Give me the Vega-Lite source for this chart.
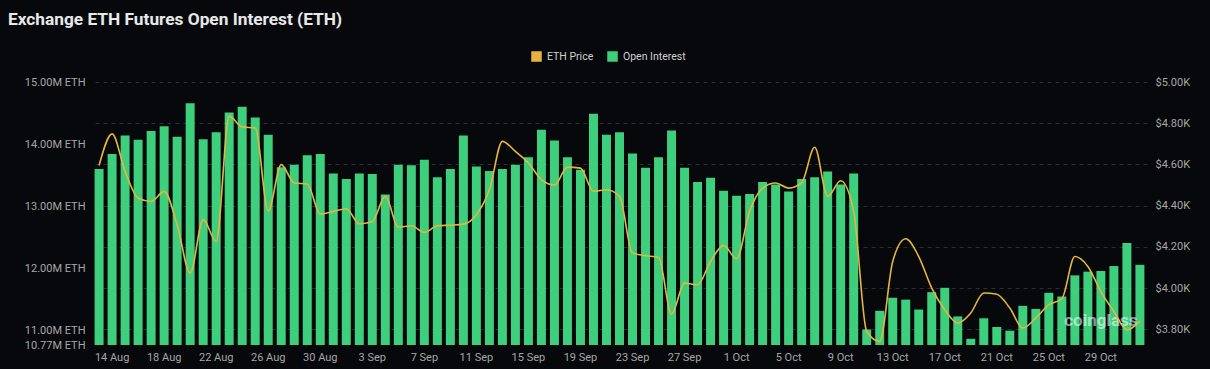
{
  "$schema": "https://vega.github.io/schema/vega-lite/v6.json",
  "width": 1055,
  "height": 263,
  "autosize": {"type": "none"},
  "padding": {"left": 92, "top": 82, "right": 63, "bottom": 24},
  "background": "#06080c",
  "title": {
    "text": "Exchange ETH Futures Open Interest (ETH)",
    "anchor": "start",
    "frame": "group",
    "dx": -84,
    "offset": 23,
    "color": "#e8e8e8",
    "font": "Roboto",
    "fontSize": 17.3,
    "fontWeight": "bold"
  },
  "config": {
    "view": {"stroke": null},
    "axis": {"labelFont": "Roboto", "labelFontSize": 11, "labelColor": "#a6a6a6"},
    "legend": {"labelFont": "Roboto", "labelFontSize": 10.5, "labelColor": "#d0d0d0"}
  },
  "data": {
    "values": [
      {"date": "13 Aug", "oi": 13.60, "price": 4.595},
      {"date": "14 Aug", "oi": 13.84, "price": 4.748},
      {"date": "15 Aug", "oi": 14.14, "price": 4.566},
      {"date": "16 Aug", "oi": 14.07, "price": 4.437},
      {"date": "17 Aug", "oi": 14.21, "price": 4.420},
      {"date": "18 Aug", "oi": 14.29, "price": 4.469},
      {"date": "19 Aug", "oi": 14.12, "price": 4.307},
      {"date": "20 Aug", "oi": 14.66, "price": 4.073},
      {"date": "21 Aug", "oi": 14.08, "price": 4.332},
      {"date": "22 Aug", "oi": 14.19, "price": 4.226},
      {"date": "23 Aug", "oi": 14.51, "price": 4.833},
      {"date": "24 Aug", "oi": 14.60, "price": 4.782},
      {"date": "25 Aug", "oi": 14.43, "price": 4.777},
      {"date": "26 Aug", "oi": 14.15, "price": 4.375},
      {"date": "27 Aug", "oi": 13.63, "price": 4.599},
      {"date": "28 Aug", "oi": 13.67, "price": 4.510},
      {"date": "29 Aug", "oi": 13.82, "price": 4.505},
      {"date": "30 Aug", "oi": 13.84, "price": 4.359},
      {"date": "31 Aug", "oi": 13.53, "price": 4.372},
      {"date": "1 Sep", "oi": 13.44, "price": 4.385},
      {"date": "2 Sep", "oi": 13.53, "price": 4.312},
      {"date": "3 Sep", "oi": 13.52, "price": 4.323},
      {"date": "4 Sep", "oi": 13.19, "price": 4.445},
      {"date": "5 Sep", "oi": 13.67, "price": 4.296},
      {"date": "6 Sep", "oi": 13.66, "price": 4.302},
      {"date": "7 Sep", "oi": 13.75, "price": 4.270},
      {"date": "8 Sep", "oi": 13.47, "price": 4.302},
      {"date": "9 Sep", "oi": 13.60, "price": 4.305},
      {"date": "10 Sep", "oi": 14.14, "price": 4.310},
      {"date": "11 Sep", "oi": 13.64, "price": 4.356},
      {"date": "12 Sep", "oi": 13.57, "price": 4.477},
      {"date": "13 Sep", "oi": 13.60, "price": 4.712},
      {"date": "14 Sep", "oi": 13.67, "price": 4.663},
      {"date": "15 Sep", "oi": 13.79, "price": 4.607},
      {"date": "16 Sep", "oi": 14.23, "price": 4.526},
      {"date": "17 Sep", "oi": 14.06, "price": 4.500},
      {"date": "18 Sep", "oi": 13.79, "price": 4.587},
      {"date": "19 Sep", "oi": 13.59, "price": 4.582},
      {"date": "20 Sep", "oi": 14.49, "price": 4.469},
      {"date": "21 Sep", "oi": 14.15, "price": 4.477},
      {"date": "22 Sep", "oi": 14.19, "price": 4.445},
      {"date": "23 Sep", "oi": 13.85, "price": 4.170},
      {"date": "24 Sep", "oi": 13.62, "price": 4.157},
      {"date": "25 Sep", "oi": 13.79, "price": 4.149},
      {"date": "26 Sep", "oi": 14.22, "price": 3.874},
      {"date": "27 Sep", "oi": 13.62, "price": 4.024},
      {"date": "28 Sep", "oi": 13.39, "price": 4.016},
      {"date": "29 Sep", "oi": 13.46, "price": 4.129},
      {"date": "30 Sep", "oi": 13.25, "price": 4.207},
      {"date": "1 Oct", "oi": 13.17, "price": 4.142},
      {"date": "2 Oct", "oi": 13.20, "price": 4.372},
      {"date": "3 Oct", "oi": 13.39, "price": 4.485},
      {"date": "4 Oct", "oi": 13.35, "price": 4.510},
      {"date": "5 Oct", "oi": 13.24, "price": 4.485},
      {"date": "6 Oct", "oi": 13.44, "price": 4.510},
      {"date": "7 Oct", "oi": 13.47, "price": 4.683},
      {"date": "8 Oct", "oi": 13.56, "price": 4.445},
      {"date": "9 Oct", "oi": 13.35, "price": 4.521},
      {"date": "10 Oct", "oi": 13.53, "price": 4.372},
      {"date": "11 Oct", "oi": 11.02, "price": 3.789},
      {"date": "12 Oct", "oi": 11.32, "price": 3.741},
      {"date": "13 Oct", "oi": 11.53, "price": 4.129},
      {"date": "14 Oct", "oi": 11.50, "price": 4.239},
      {"date": "15 Oct", "oi": 11.34, "price": 4.153},
      {"date": "16 Oct", "oi": 11.62, "price": 4.000},
      {"date": "17 Oct", "oi": 11.69, "price": 3.895},
      {"date": "18 Oct", "oi": 11.23, "price": 3.830},
      {"date": "19 Oct", "oi": 10.87, "price": 3.879},
      {"date": "20 Oct", "oi": 11.20, "price": 3.976},
      {"date": "21 Oct", "oi": 11.06, "price": 3.970},
      {"date": "22 Oct", "oi": 11.00, "price": 3.903},
      {"date": "23 Oct", "oi": 11.40, "price": 3.806},
      {"date": "24 Oct", "oi": 11.35, "price": 3.854},
      {"date": "25 Oct", "oi": 11.61, "price": 3.919},
      {"date": "26 Oct", "oi": 11.55, "price": 3.948},
      {"date": "27 Oct", "oi": 11.89, "price": 4.153},
      {"date": "28 Oct", "oi": 11.95, "price": 4.105},
      {"date": "29 Oct", "oi": 11.96, "price": 3.983},
      {"date": "30 Oct", "oi": 12.04, "price": 3.886},
      {"date": "31 Oct", "oi": 12.41, "price": 3.797},
      {"date": "1 Nov", "oi": 12.06, "price": 3.838}
    ]
  },
  "encoding": {
    "x": {
      "field": "date",
      "type": "ordinal",
      "sort": null,
      "scale": {"paddingInner": 0.31, "paddingOuter": 0.2},
      "axis": {
        "values": ["14 Aug", "18 Aug", "22 Aug", "26 Aug", "30 Aug", "3 Sep", "7 Sep", "11 Sep", "15 Sep", "19 Sep", "23 Sep", "27 Sep", "1 Oct", "5 Oct", "9 Oct", "13 Oct", "17 Oct", "21 Oct", "25 Oct", "29 Oct"],
        "labelAngle": 0,
        "ticks": false,
        "tickSize": 0,
        "domain": false,
        "title": null,
        "labelPadding": 6
      }
    }
  },
  "layer": [
    {
      "layer": [
        {
          "mark": {"type": "bar"},
          "encoding": {
            "y": {
              "field": "oi",
              "type": "quantitative",
              "scale": {"domain": [10.77, 15], "zero": false, "nice": false},
              "axis": {
                "orient": "left",
                "values": [10.77, 11, 12, 13, 14, 15],
                "labelExpr": "format(datum.value, '.2f') + 'M ETH'",
                "grid": false,
                "ticks": false,
                "tickSize": 0,
                "domain": false,
                "title": null,
                "labelPadding": 7,
                "labelOverlap": false
              }
            },
            "y2": {"datum": 10.77},
            "color": {
              "datum": "Open Interest",
              "scale": {"domain": ["ETH Price", "Open Interest"], "range": ["#e7b53e", "#3ecf7c"]},
              "legend": {
                "title": null,
                "orient": "none",
                "direction": "horizontal",
                "legendX": 439,
                "legendY": -31,
                "symbolType": "square",
                "symbolSize": 81,
                "labelOffset": 5,
                "columnPadding": 11,
                "encode": {
                  "symbols": {
                    "update": {
                      "fill": {"scale": "color", "field": "value"},
                      "stroke": {"value": "transparent"},
                      "shape": {"value": "square"}
                    }
                  }
                }
              }
            }
          }
        },
        {
          "transform": [{"filter": "datum.date == '29 Oct'"}],
          "mark": {"type": "text", "text": "coinglass", "font": "Roboto", "fontSize": 17, "fontWeight": "bold", "color": "#ffffff", "opacity": 0.55, "align": "center", "baseline": "middle"},
          "encoding": {
            "y": {"datum": 11.15}
          }
        }
      ]
    },
    {
      "mark": {"type": "line", "interpolate": "monotone", "strokeWidth": 1.6},
      "encoding": {
        "y": {
          "field": "price",
          "type": "quantitative",
          "scale": {"domain": [3.7235, 5.0], "zero": false, "nice": false},
          "axis": {
            "orient": "right",
            "values": [3.8, 4.0, 4.2, 4.4, 4.6, 4.8, 5.0],
            "labelExpr": "'$' + format(datum.value, '.2f') + 'K'",
            "grid": true,
            "gridColor": "#2a2e35",
            "gridDash": [4, 4],
            "ticks": false,
            "tickSize": 0,
            "domain": false,
            "title": null,
            "labelPadding": 8
          }
        },
        "color": {"datum": "ETH Price"}
      }
    }
  ],
  "resolve": {"scale": {"y": "independent"}}
}
